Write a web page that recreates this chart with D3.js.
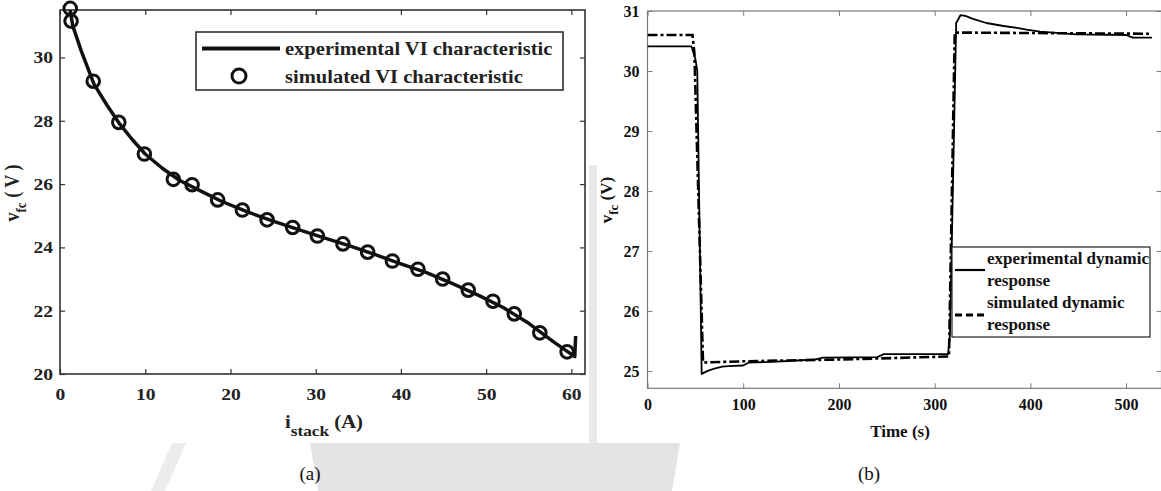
<!DOCTYPE html>
<html>
<head>
<meta charset="utf-8">
<script src="https://cdn.jsdelivr.net/npm/d3@7"></script>
<style>
  body { margin: 0; background: #fff; }
  svg { display: block; }
  text { font-family: "Liberation Serif", "Times New Roman", serif; }
</style>
</head>
<body>
<svg width="1161" height="491"></svg>
<script>
// (a) VI characteristic
var simCurrent = [1.2, 1.3, 3.9, 6.9, 9.9, 13.3, 15.5, 18.5, 21.4, 24.3, 27.3, 30.2, 33.2, 36.1, 39.0, 42.0, 44.9, 47.9, 50.8, 53.3, 56.3, 59.5];
var simVoltage = [31.55, 31.15, 29.25, 27.95, 26.95, 26.15, 25.98, 25.5, 25.18, 24.87, 24.63, 24.36, 24.11, 23.85, 23.57, 23.31, 23.0, 22.65, 22.3, 21.9, 21.3, 20.7];
var expCurrent = [1.0, 1.5, 2.5, 4, 5.5, 7, 8.5, 10, 12, 14, 16, 19, 22, 25, 28, 31, 34, 37, 40, 43, 46, 49, 52, 55, 58, 60.4, 60.5];
var expVoltage = [31.8, 31.0, 30.2, 29.15, 28.5, 27.9, 27.4, 26.95, 26.5, 26.12, 25.85, 25.45, 25.12, 24.83, 24.56, 24.3, 24.05, 23.77, 23.48, 23.2, 22.86, 22.5, 22.1, 21.6, 21.0, 20.55, 21.2];
var viTicksX = [0, 10, 20, 30, 40, 50, 60];
var viTicksY = [20, 22, 24, 26, 28, 30];

// (b) dynamic response
var expTime = [0, 46, 50, 52, 56.6, 63, 70, 78, 85, 100, 106, 130, 175, 183, 240, 247, 314, 316, 322.5, 327, 332, 340, 354, 372, 386, 396, 410, 448, 500, 507, 527];
var expVolt = [30.41, 30.41, 30.2, 30.0, 24.95, 25.0, 25.04, 25.07, 25.08, 25.09, 25.14, 25.15, 25.19, 25.22, 25.23, 25.28, 25.28, 25.6, 30.8, 30.93, 30.92, 30.87, 30.8, 30.75, 30.72, 30.69, 30.655, 30.61, 30.6, 30.555, 30.555];
var simTime = [0, 47, 49, 58, 100, 200, 315, 321, 330, 527];
var simVolt = [30.6, 30.6, 30.3, 25.14, 25.16, 25.19, 25.24, 30.64, 30.64, 30.62];
var dynTicksX = [0, 100, 200, 300, 400, 500];
var dynTicksY = [25, 26, 27, 28, 29, 30, 31];

var svg = d3.select("svg");
var stretch = "scale(1.15,1)";

// faint watermark of the source page
var wm = svg.append("g");
wm.append("path").attr("d", "M310,443L680,443L672,491L318,491Z").attr("fill", "#e4e4e4");
wm.append("path").attr("d", "M589,165L597,165L597,443L589,443Z").attr("fill", "#e9e9e9");
wm.append("path").attr("d", "M172,443L186,443L165,491L151,491Z").attr("fill", "#ececec");

// ---------- panel (a) ----------
var xa = d3.scaleLinear().domain([0, 61.6]).range([60, 585]),
    ya = d3.scaleLinear().domain([20, 31.5]).range([374, 10]);

svg.append("clipPath").attr("id", "clipA")
  .append("rect")
    .attr("x", xa.range()[0]).attr("y", ya.range()[1])
    .attr("width", xa.range()[1] - xa.range()[0])
    .attr("height", ya.range()[0] - ya.range()[1]);

var ga = svg.append("g");
var axisColA = "#333";

var bottomA = ga.append("g")
    .attr("transform", "translate(0," + ya.range()[0] + ")")
    .call(d3.axisBottom(xa).tickValues(viTicksX).tickSizeInner(-5).tickSizeOuter(0));
bottomA.selectAll("text")
    .attr("y", 26).attr("dy", null)
    .attr("transform", stretch);

var leftA = ga.append("g")
    .attr("transform", "translate(" + xa.range()[0] + ",0)")
    .call(d3.axisLeft(ya).tickValues(viTicksY).tickSizeInner(-5).tickSizeOuter(0));
leftA.selectAll("text").attr("x", -6).attr("transform", stretch);

ga.append("g")
    .attr("transform", "translate(0," + ya.range()[1] + ")")
    .call(d3.axisTop(xa).tickValues(viTicksX).tickSizeInner(-5).tickSizeOuter(0).tickFormat(""));
ga.append("g")
    .attr("transform", "translate(" + xa.range()[1] + ",0)")
    .call(d3.axisRight(ya).tickValues(viTicksY).tickSizeInner(-5).tickSizeOuter(0).tickFormat(""));

ga.selectAll(".domain").remove();
ga.selectAll(".tick line").attr("stroke", axisColA).attr("stroke-width", 1.2);
ga.selectAll(".tick text")
    .attr("fill", "#222")
    .style("font-size", "17px")
    .style("font-weight", "bold");

ga.append("rect")
    .attr("x", xa.range()[0]).attr("y", ya.range()[1])
    .attr("width", xa.range()[1] - xa.range()[0])
    .attr("height", ya.range()[0] - ya.range()[1])
    .attr("fill", "none").attr("stroke", axisColA).attr("stroke-width", 1.6);

ga.append("path")
    .datum(expVoltage)
    .attr("clip-path", "url(#clipA)")
    .attr("fill", "none")
    .attr("stroke", "#111")
    .attr("stroke-width", 3.5)
    .attr("stroke-linejoin", "round")
    .attr("d", d3.line()
        .x(function(d, i) { return xa(expCurrent[i]); })
        .y(function(d) { return ya(d); }));

ga.selectAll("circle.sim")
    .data(simVoltage)
  .enter().append("circle")
    .attr("class", "sim")
    .attr("cx", function(d, i) { return xa(simCurrent[i]); })
    .attr("cy", function(d) { return ya(d); })
    .attr("r", 6.3)
    .attr("fill", "none")
    .attr("stroke", "#111")
    .attr("stroke-width", 3);

// legend (a)
var legA = ga.append("g");
legA.append("rect")
    .attr("x", 196).attr("y", 32).attr("width", 367).attr("height", 58)
    .attr("fill", "#fff").attr("stroke", "#222").attr("stroke-width", 1.5);
legA.append("line")
    .attr("x1", 202).attr("x2", 280).attr("y1", 48.5).attr("y2", 48.5)
    .attr("stroke", "#111").attr("stroke-width", 4);
legA.append("circle")
    .attr("cx", 239).attr("cy", 76).attr("r", 7)
    .attr("fill", "none").attr("stroke", "#111").attr("stroke-width", 3);
legA.selectAll("text")
    .data(["experimental VI characteristic", "simulated VI characteristic"])
  .enter().append("text")
    .attr("transform", function(d, i) { return "translate(285," + (54.5 + i * 28) + ") scale(1.14,1)"; })
    .attr("fill", "#222")
    .style("font-size", "18px")
    .style("font-weight", "bold")
    .text(function(d) { return d; });

// axis labels (a)
var xLabA = ga.append("text")
    .attr("transform", "translate(324,428) " + stretch)
    .attr("text-anchor", "middle")
    .attr("fill", "#222")
    .style("font-size", "18px")
    .style("font-weight", "bold");
xLabA.append("tspan").text("i");
xLabA.append("tspan").attr("dy", 8).style("font-size", "15px").text("stack");
xLabA.append("tspan").attr("dy", -8).text(" (A)");

var yLabA = ga.append("text")
    .attr("transform", "translate(19,193) rotate(-90) scale(1,1.15)")
    .attr("text-anchor", "middle")
    .attr("fill", "#222")
    .style("font-size", "18px")
    .style("font-weight", "bold");
yLabA.append("tspan").text("v");
yLabA.append("tspan").attr("dy", 6).style("font-size", "13px").text("fc");
yLabA.append("tspan").attr("dy", -6).text(" ( V )");

svg.append("text")
    .attr("x", 310).attr("y", 480)
    .attr("text-anchor", "middle")
    .attr("fill", "#111")
    .style("font-size", "19px")
    .text("(a)");

// ---------- panel (b) ----------
var xb = d3.scaleLinear().domain([0, 537]).range([647.5, 1161.5]),
    yb = d3.scaleLinear().domain([24.71, 31]).range([388.3, 11]);

svg.append("clipPath").attr("id", "clipB")
  .append("rect")
    .attr("x", xb.range()[0]).attr("y", yb.range()[1])
    .attr("width", xb.range()[1] - xb.range()[0])
    .attr("height", yb.range()[0] - yb.range()[1]);

var gb = svg.append("g");
var axisColB = "#7a7a7a";

var bottomB = gb.append("g")
    .attr("transform", "translate(0," + yb.range()[0] + ")")
    .call(d3.axisBottom(xb).tickValues(dynTicksX).tickFormat(d3.format("d")).tickSizeInner(-5).tickSizeOuter(0));
bottomB.selectAll("text").attr("y", 22).attr("dy", null);

var leftB = gb.append("g")
    .attr("transform", "translate(" + xb.range()[0] + ",0)")
    .call(d3.axisLeft(yb).tickValues(dynTicksY).tickFormat(d3.format("d")).tickSizeInner(-5).tickSizeOuter(0));
leftB.selectAll("text").attr("x", -8);

gb.append("g")
    .attr("transform", "translate(0," + yb.range()[1] + ")")
    .call(d3.axisTop(xb).tickValues(dynTicksX).tickSizeInner(-5).tickSizeOuter(0).tickFormat(""));
gb.append("g")
    .attr("transform", "translate(" + xb.range()[1] + ",0)")
    .call(d3.axisRight(yb).tickValues(dynTicksY).tickSizeInner(-5).tickSizeOuter(0).tickFormat(""));

gb.selectAll(".domain").remove();
gb.selectAll(".tick line").attr("stroke", axisColB);
gb.selectAll(".tick text")
    .attr("fill", "#111")
    .style("font-size", "16px")
    .style("font-weight", "bold");

gb.append("rect")
    .attr("x", xb.range()[0]).attr("y", yb.range()[1])
    .attr("width", xb.range()[1] - xb.range()[0])
    .attr("height", yb.range()[0] - yb.range()[1])
    .attr("fill", "none").attr("stroke", axisColB).attr("stroke-width", 1.2);

var lineB = function(times) {
  return d3.line()
      .x(function(d, i) { return xb(times[i]); })
      .y(function(d) { return yb(d); });
};

gb.append("path")
    .datum(simVolt)
    .attr("clip-path", "url(#clipB)")
    .attr("fill", "none")
    .attr("stroke", "#000")
    .attr("stroke-width", 2.6)
    .attr("stroke-dasharray", "10,3,3,3")
    .attr("d", lineB(simTime));

gb.append("path")
    .datum(expVolt)
    .attr("clip-path", "url(#clipB)")
    .attr("fill", "none")
    .attr("stroke", "#000")
    .attr("stroke-width", 1.8)
    .attr("stroke-linejoin", "round")
    .attr("d", lineB(expTime));

// legend (b)
var legB = gb.append("g");
legB.append("rect")
    .attr("x", 952).attr("y", 247).attr("width", 198).attr("height", 90)
    .attr("fill", "#fff").attr("stroke", "#222").attr("stroke-width", 1.2);
legB.append("line")
    .attr("x1", 955).attr("x2", 985).attr("y1", 270).attr("y2", 270)
    .attr("stroke", "#000").attr("stroke-width", 2.2);
legB.append("line")
    .attr("x1", 955).attr("x2", 985).attr("y1", 315).attr("y2", 315)
    .attr("stroke", "#000").attr("stroke-width", 3)
    .attr("stroke-dasharray", "7,4");
legB.selectAll("text")
    .data(["experimental dynamic", "response", "simulated dynamic", "response"])
  .enter().append("text")
    .attr("x", 987)
    .attr("y", function(d, i) { return [264, 286, 308, 330][i]; })
    .attr("fill", "#111")
    .style("font-size", "17px")
    .style("font-weight", "bold")
    .text(function(d) { return d; });

// axis labels (b)
gb.append("text")
    .attr("x", 900).attr("y", 437)
    .attr("text-anchor", "middle")
    .attr("fill", "#111")
    .style("font-size", "17px")
    .style("font-weight", "bold")
    .text("Time (s)");

var yLabB = gb.append("text")
    .attr("transform", "translate(612,200) rotate(-90)")
    .attr("text-anchor", "middle")
    .attr("fill", "#111")
    .style("font-size", "17px")
    .style("font-weight", "bold");
yLabB.append("tspan").text("v");
yLabB.append("tspan").attr("dy", 6).style("font-size", "13px").text("fc");
yLabB.append("tspan").attr("dy", -6).text(" (V)");

svg.append("text")
    .attr("x", 869).attr("y", 480)
    .attr("text-anchor", "middle")
    .attr("fill", "#111")
    .style("font-size", "19px")
    .text("(b)");
</script>
</body>
</html>
